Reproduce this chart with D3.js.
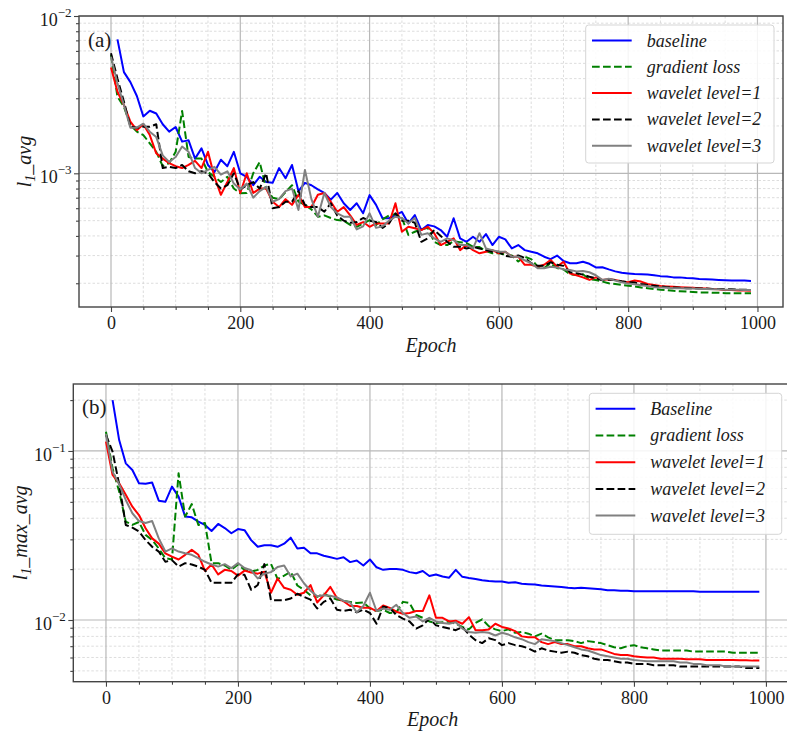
<!DOCTYPE html>
<html>
<head>
<meta charset="utf-8">
<script src="https://d3js.org/d3.v7.min.js"></script>
<style>
  body { margin: 0; background: #fff; }
  .minor { stroke: #d4d4d4; stroke-width: 0.8; stroke-dasharray: 2.5,2; }
  .major { stroke: #b8b8b8; stroke-width: 1.2; }
  .axis path { display: none; }
  .axis line { stroke: #444; stroke-width: 1.1; }
  .spine { fill: none; stroke: #444; stroke-width: 1.4; }
  .series { fill: none; stroke-width: 2; stroke-linejoin: round; }
</style>
</head>
<body>
<svg id="chart" width="787" height="734" font-family="'Liberation Serif', 'Times New Roman', Tinos, serif"></svg>
<script>
var SERIF = "'Liberation Serif', 'Times New Roman', Tinos, serif";

// epochs: every 10, the baseline run starts at 10
var epochs = d3.range(0, 1000, 10);
var epochsBase = d3.range(10, 1000, 10);

var seriesNames = ["baseline", "gradient loss", "wavelet level=1", "wavelet level=2", "wavelet level=3"];
var seriesNamesB = ["Baseline", "gradient loss", "wavelet level=1", "wavelet level=2", "wavelet level=3"];
var seriesColors = ["#0000ff", "#008000", "#ff0000", "#000000", "#808080"];
var seriesDashed = [false, true, false, true, false];

// (a) l_1_avg
var baselineA = [71e-4,44e-4,38e-4,31e-4,23e-4,25e-4,24e-4,20.5e-4,18.4e-4,19.7e-4,
  15.9e-4,16.2e-4,12.4e-4,14.4e-4,11.3e-4,10.2e-4,12.2e-4,11.1e-4,13.7e-4,10e-4,
  9.5e-4,8.4e-4,9.5e-4,8.8e-4,8.7e-4,10.8e-4,9.3e-4,11.3e-4,7.7e-4,8.7e-4,
  8.4e-4,7.9e-4,7.5e-4,6.8e-4,7.5e-4,6.45e-4,5.85e-4,6.45e-4,5.57e-4,7.27e-4,
  6.3e-4,5.18e-4,5.18e-4,5.43e-4,5.68e-4,4.8e-4,5.43e-4,4.36e-4,4.69e-4,4.6e-4,
  4.36e-4,3.95e-4,5.18e-4,3.86e-4,3.67e-4,3.95e-4,3.67e-4,4.11e-4,3.5e-4,3.95e-4,
  3.8e-4,3.33e-4,3.5e-4,3.25e-4,3.17e-4,3.1e-4,2.95e-4,2.85e-4,3.0e-4,2.77e-4,
  2.68e-4,2.68e-4,2.74e-4,2.66e-4,2.52e-4,2.53e-4,2.45e-4,2.38e-4,2.33e-4,2.31e-4,
  2.29e-4,2.28e-4,2.27e-4,2.25e-4,2.22e-4,2.21e-4,2.18e-4,2.18e-4,2.16e-4,2.15e-4,
  2.13e-4,2.12e-4,2.11e-4,2.10e-4,2.09e-4,2.08e-4,2.08e-4,2.08e-4,2.07e-4];
var gradA = [56.5e-4,30.7e-4,26.5e-4,20.3e-4,18.4e-4,17.5e-4,15.5e-4,13.7e-4,11.1e-4,11.6e-4,
  13.7e-4,24.9e-4,12.7e-4,12.4e-4,12.4e-4,10.2e-4,9.5e-4,8.8e-4,9.5e-4,8.0e-4,
  7.46e-4,7.5e-4,10.0e-4,11.8e-4,8.0e-4,7.0e-4,6.85e-4,7.6e-4,8.4e-4,6.6e-4,
  6.3e-4,5.9e-4,5.3e-4,5.4e-4,5.2e-4,5.04e-4,5.0e-4,4.7e-4,4.57e-4,4.8e-4,
  5.04e-4,4.7e-4,5.1e-4,5.4e-4,5.5e-4,5.2e-4,4.06e-4,4.25e-4,4.4e-4,4.5e-4,
  3.67e-4,3.5e-4,3.5e-4,3.7e-4,3.65e-4,3.6e-4,3.41e-4,3.4e-4,3.2e-4,3.1e-4,
  3.1e-4,3.05e-4,3.0e-4,2.75e-4,2.95e-4,2.85e-4,2.55e-4,2.5e-4,2.68e-4,2.5e-4,
  2.45e-4,2.28e-4,2.26e-4,2.28e-4,2.12e-4,2.1e-4,2.05e-4,2.0e-4,1.98e-4,1.95e-4,
  1.93e-4,1.91e-4,1.88e-4,1.86e-4,1.84e-4,1.82e-4,1.81e-4,1.79e-4,1.78e-4,1.77e-4,
  1.76e-4,1.75e-4,1.75e-4,1.74e-4,1.74e-4,1.73e-4,1.73e-4,1.73e-4,1.73e-4,1.73e-4];
var wave1A = [47e-4,33e-4,27.2e-4,21.3e-4,18.8e-4,20.5e-4,17.5e-4,13.4e-4,12.4e-4,11.6e-4,
  11.1e-4,10.8e-4,11.3e-4,12.0e-4,10.8e-4,13.7e-4,9.5e-4,7.3e-4,8.8e-4,10.8e-4,
  7.5e-4,10.0e-4,7.5e-4,8.0e-4,8.0e-4,6.6e-4,6.1e-4,6.85e-4,6.3e-4,7.3e-4,
  6.1e-4,6.1e-4,7.3e-4,7.5e-4,6.6e-4,5.7e-4,6.1e-4,5.4e-4,4.7e-4,4.9e-4,
  4.57e-4,4.8e-4,4.8e-4,4.8e-4,6.45e-4,4.25e-4,4.57e-4,4.47e-4,4.36e-4,4.57e-4,
  4.16e-4,3.5e-4,3.67e-4,3.86e-4,3.25e-4,3.5e-4,3.25e-4,3.1e-4,3.17e-4,3.25e-4,
  3.1e-4,3.17e-4,2.95e-4,2.95e-4,2.62e-4,2.62e-4,2.55e-4,2.62e-4,2.81e-4,2.55e-4,
  2.74e-4,2.31e-4,2.25e-4,2.18e-4,2.1e-4,2.18e-4,2.1e-4,2.12e-4,2.1e-4,2.05e-4,
  2.03e-4,2.08e-4,2.05e-4,1.98e-4,1.95e-4,1.92e-4,1.91e-4,1.90e-4,1.89e-4,1.88e-4,
  1.87e-4,1.86e-4,1.85e-4,1.84e-4,1.83e-4,1.81e-4,1.81e-4,1.80e-4,1.80e-4,1.79e-4];
var wave2A = [58e-4,40e-4,28.5e-4,19.8e-4,19.5e-4,19.8e-4,19.8e-4,20.5e-4,10.8e-4,11.0e-4,
  10.8e-4,11.3e-4,10.3e-4,10.0e-4,10.3e-4,10.0e-4,8.8e-4,8.0e-4,8.4e-4,10.0e-4,
  7.9e-4,8.4e-4,8.8e-4,8.0e-4,10.0e-4,6.0e-4,6.1e-4,6.6e-4,6.6e-4,7.7e-4,
  6.3e-4,6.1e-4,6.1e-4,5.7e-4,6.45e-4,5.4e-4,5.0e-4,4.85e-4,4.9e-4,5.2e-4,
  5.0e-4,4.9e-4,4.5e-4,4.8e-4,5.57e-4,5.0e-4,5.0e-4,4.85e-4,3.67e-4,3.86e-4,
  4.36e-4,4.0e-4,3.67e-4,3.41e-4,3.41e-4,3.33e-4,3.41e-4,3.33e-4,3.25e-4,3.17e-4,
  3.17e-4,2.98e-4,2.95e-4,3.0e-4,2.9e-4,2.68e-4,2.58e-4,2.58e-4,2.72e-4,2.62e-4,
  2.58e-4,2.35e-4,2.32e-4,2.27e-4,2.2e-4,2.15e-4,2.09e-4,2.11e-4,2.1e-4,2.06e-4,
  2.03e-4,2.02e-4,1.98e-4,1.95e-4,1.93e-4,1.91e-4,1.89e-4,1.88e-4,1.87e-4,1.86e-4,
  1.86e-4,1.85e-4,1.85e-4,1.84e-4,1.84e-4,1.83e-4,1.83e-4,1.82e-4,1.82e-4,1.81e-4];
var wave3A = [55e-4,37.3e-4,27.2e-4,19.5e-4,19.5e-4,20.7e-4,18.4e-4,17.0e-4,13.0e-4,11.8e-4,
  12.7e-4,14.8e-4,13.7e-4,10.8e-4,10.0e-4,10.5e-4,11.0e-4,9.8e-4,10.3e-4,8.6e-4,
  7.9e-4,8.6e-4,7.0e-4,7.7e-4,8.2e-4,6.6e-4,6.85e-4,7.7e-4,8.0e-4,5.85e-4,
  10.5e-4,6.85e-4,5.3e-4,7.5e-4,6.1e-4,5.57e-4,5.3e-4,5.3e-4,4.4e-4,4.6e-4,
  5.57e-4,4.5e-4,4.6e-4,5.0e-4,5.3e-4,5.2e-4,4.8e-4,5.2e-4,4.06e-4,4.16e-4,
  3.86e-4,3.67e-4,3.86e-4,3.76e-4,3.5e-4,3.5e-4,3.33e-4,4.16e-4,3.33e-4,3.25e-4,
  3.17e-4,3.17e-4,2.95e-4,2.95e-4,2.8e-4,2.68e-4,2.49e-4,2.49e-4,2.55e-4,2.52e-4,
  2.45e-4,2.43e-4,2.38e-4,2.39e-4,2.35e-4,2.25e-4,2.1e-4,2.14e-4,2.08e-4,2.03e-4,
  1.99e-4,1.97e-4,1.94e-4,1.92e-4,1.89e-4,1.88e-4,1.87e-4,1.86e-4,1.86e-4,1.85e-4,
  1.85e-4,1.84e-4,1.84e-4,1.83e-4,1.83e-4,1.82e-4,1.82e-4,1.82e-4,1.81e-4,1.81e-4];

// (b) l_1_max_avg
var baselineB = [0.2,0.116,0.0845,0.0772,0.0644,0.064,0.065,0.0508,0.05,0.0615,
  0.0537,0.0409,0.0405,0.0382,0.0365,0.0336,0.037,0.035,0.0326,0.0345,
  0.034,0.0297,0.0271,0.0277,0.0277,0.0271,0.0283,0.0307,0.0265,0.0268,
  0.0248,0.0248,0.024,0.0235,0.023,0.0235,0.022,0.0225,0.021,0.0228,
  0.0205,0.0198,0.020,0.020,0.0198,0.0192,0.0189,0.0195,0.0182,0.0186,
  0.0181,0.0178,0.0198,0.018,0.0177,0.0175,0.0172,0.017,0.0169,0.0169,
  0.0166,0.0167,0.0164,0.0163,0.0162,0.016,0.0159,0.0158,0.0157,0.0155,
  0.0154,0.0155,0.0154,0.0153,0.0152,0.015,0.015,0.0149,0.0149,0.0148,
  0.0148,0.0148,0.0148,0.0148,0.0148,0.0148,0.0148,0.0148,0.0148,0.0147,
  0.0147,0.0147,0.0147,0.0147,0.0147,0.0147,0.0147,0.0147,0.0147];
var gradB = [0.13,0.079,0.0575,0.0382,0.0365,0.038,0.0319,0.0297,0.0265,0.0232,
  0.0228,0.0738,0.0409,0.0485,0.0365,0.0375,0.0217,0.0217,0.021,0.0198,
  0.0213,0.0198,0.0193,0.0198,0.021,0.0215,0.0175,0.0183,0.0193,0.016,
  0.0151,0.014,0.0137,0.0143,0.0137,0.0132,0.013,0.0128,0.0126,0.0127,
  0.0117,0.0113,0.0115,0.011,0.0111,0.0128,0.0126,0.0107,0.0103,0.0098,
  0.0096,0.0097,0.0098,0.0095,0.0091,0.0088,0.0096,0.0101,0.0092,0.0088,
  0.0086,0.0088,0.0084,0.0085,0.0083,0.0080,0.0083,0.0079,0.0076,0.0076,
  0.0076,0.0075,0.0073,0.0075,0.0074,0.0073,0.0071,0.0069,0.0068,0.0070,
  0.0071,0.0069,0.0068,0.0067,0.0066,0.0066,0.0066,0.0066,0.0066,0.0065,
  0.0065,0.0065,0.0065,0.0065,0.0065,0.0064,0.0064,0.0064,0.0064,0.0064];
var wave1B = [0.1135,0.0721,0.0644,0.055,0.0468,0.0418,0.0349,0.0304,0.0283,0.0248,
  0.0237,0.0228,0.0243,0.026,0.0243,0.0195,0.0213,0.0186,0.0198,0.0195,
  0.0183,0.0196,0.0191,0.0188,0.0193,0.0145,0.0176,0.0155,0.0151,0.0141,
  0.0145,0.0161,0.0127,0.014,0.0157,0.0135,0.0129,0.0121,0.0121,0.0118,
  0.0118,0.0113,0.0122,0.0118,0.0112,0.0109,0.011,0.0113,0.0113,0.014,
  0.0103,0.0103,0.0098,0.0099,0.0095,0.0104,0.0087,0.0087,0.0088,0.0095,
  0.0091,0.0089,0.0086,0.0080,0.0079,0.0079,0.0074,0.0072,0.0074,0.0072,
  0.0072,0.0070,0.0070,0.0068,0.0067,0.0067,0.0065,0.0063,0.0062,0.0062,
  0.0061,0.00605,0.0060,0.0060,0.0059,0.0059,0.0059,0.0059,0.00585,0.00585,
  0.00585,0.0058,0.0058,0.0058,0.0058,0.0058,0.00578,0.00578,0.00575,0.00575];
var wave2B = [0.1245,0.099,0.0635,0.0365,0.0352,0.0334,0.0297,0.0271,0.0254,0.0221,
  0.0226,0.0207,0.0217,0.0213,0.0207,0.0198,0.0166,0.0166,0.0166,0.0166,
  0.0186,0.0185,0.0151,0.0161,0.0214,0.0131,0.0131,0.0131,0.0134,0.0143,
  0.0137,0.0132,0.0117,0.0128,0.0134,0.0115,0.0113,0.0115,0.0111,0.0115,
  0.011,0.0095,0.012,0.0118,0.0107,0.0102,0.0098,0.0089,0.0093,0.0102,
  0.0093,0.0091,0.0089,0.0087,0.0091,0.0082,0.0076,0.0073,0.0078,0.0076,
  0.0071,0.0073,0.0071,0.0070,0.0068,0.0065,0.0068,0.0066,0.0065,0.0064,
  0.0065,0.0064,0.0062,0.0061,0.0059,0.0058,0.0058,0.0057,0.0056,0.0056,
  0.0055,0.0055,0.0055,0.0054,0.0054,0.0054,0.0054,0.0053,0.0053,0.0053,
  0.0053,0.0053,0.0053,0.0053,0.0053,0.0053,0.0053,0.0052,0.0052,0.0052];
var wave3B = [0.126,0.0755,0.0635,0.0513,0.0428,0.0385,0.0375,0.0385,0.0304,0.0254,
  0.0265,0.0254,0.0248,0.0243,0.0232,0.0221,0.0213,0.0207,0.0214,0.0203,
  0.0217,0.0203,0.0197,0.0176,0.0188,0.0192,0.0206,0.021,0.0181,0.0188,
  0.0165,0.0149,0.0138,0.014,0.0139,0.0136,0.013,0.0127,0.0111,0.0121,
  0.0145,0.0113,0.0117,0.0115,0.0123,0.011,0.0103,0.0105,0.0098,0.0103,
  0.0098,0.0096,0.0095,0.0097,0.0089,0.0085,0.0084,0.0085,0.0084,0.0081,
  0.0084,0.0082,0.0079,0.0077,0.0074,0.0072,0.0077,0.0076,0.0075,0.0073,
  0.0071,0.0069,0.0067,0.0066,0.0064,0.0062,0.0061,0.0060,0.0059,0.0059,
  0.0058,0.00575,0.0057,0.0057,0.0057,0.0057,0.0057,0.0056,0.0056,0.0055,
  0.0055,0.0054,0.0054,0.0054,0.0053,0.0053,0.0053,0.0053,0.0053,0.0053];

var xTicks = [0, 200, 400, 600, 800, 1000];

var svg = d3.select("#chart");

function txt(sel, size, italic) {
  return sel.attr("font-family", SERIF).style("font-family", SERIF)
    .style("font-size", size + "px").style("font-style", italic ? "italic" : "normal")
    .style("fill", "#1a1a1a");
}

function drawPanel(p) {
  var x = d3.scaleLinear().domain([-49.5, 1039.5]).range([p.left, p.right]);
  var y = d3.scaleLog().domain(p.yDomain).range([p.bottom, p.top]);
  var g = svg.append("g");

  g.append("clipPath").attr("id", "clip" + p.tag).append("rect")
    .attr("x", p.left).attr("y", p.top)
    .attr("width", p.right - p.left).attr("height", p.bottom - p.top);

  var lo = Math.floor(Math.log10(p.yDomain[0])), hi = Math.ceil(Math.log10(p.yDomain[1]));
  var yMajor = [], yMinor = [];
  for (var e = lo; e <= hi; e++) {
    var b = Math.pow(10, e);
    if (b >= p.yDomain[0] * 0.999 && b <= p.yDomain[1] * 1.001) yMajor.push(b);
    for (var k = 2; k < 10; k++) {
      var v = k * b;
      if (v > p.yDomain[0] && v < p.yDomain[1]) yMinor.push(v);
    }
  }
  var xMinor = d3.range(50, 1040, 50).filter(function(d) { return d % 200 !== 0; });

  // grid
  var grid = g.append("g");
  grid.selectAll(".gxm").data(xMinor).enter().append("line").attr("class", "minor")
    .attr("x1", x).attr("x2", x).attr("y1", p.top).attr("y2", p.bottom);
  grid.selectAll(".gym").data(yMinor).enter().append("line").attr("class", "minor")
    .attr("y1", y).attr("y2", y).attr("x1", p.left).attr("x2", p.right);
  grid.selectAll(".gxM").data(xTicks).enter().append("line").attr("class", "major")
    .attr("x1", x).attr("x2", x).attr("y1", p.top).attr("y2", p.bottom);
  grid.selectAll(".gyM").data(yMajor).enter().append("line").attr("class", "major")
    .attr("y1", y).attr("y2", y).attr("x1", p.left).attr("x2", p.right);

  // lines
  var line = d3.line().x(function(d) { return x(d[0]); }).y(function(d) { return y(d[1]); });
  var lines = g.append("g").attr("clip-path", "url(#clip" + p.tag + ")");
  p.series.forEach(function(s, i) {
    var xs = i === 0 ? epochsBase : epochs;
    lines.append("path").attr("class", "series")
      .attr("d", line(d3.zip(xs, s)))
      .attr("stroke", seriesColors[i])
      .attr("stroke-dasharray", seriesDashed[i] ? "7.7,3.3" : null);
  });

  // spines
  g.append("rect").attr("class", "spine")
    .attr("x", p.left).attr("y", p.top)
    .attr("width", p.right - p.left).attr("height", p.bottom - p.top);

  // x axis
  var xa = g.append("g").attr("class", "axis")
    .attr("transform", "translate(0," + p.bottom + ")")
    .call(d3.axisBottom(x).tickValues(xTicks).tickSize(5).tickFormat(d3.format("d")));
  txt(xa.selectAll("text").attr("y", 22).attr("dy", null), 18, false);
  g.append("g").attr("class", "axis")
    .attr("transform", "translate(0," + p.bottom + ")")
    .call(d3.axisBottom(x).tickValues(xMinor).tickSize(3).tickFormat(""));

  // y axis
  var ya = g.append("g").attr("class", "axis")
    .attr("transform", "translate(" + p.left + ",0)")
    .call(d3.axisLeft(y).tickValues(yMajor).tickSize(5).tickFormat(""));
  g.append("g").attr("class", "axis")
    .attr("transform", "translate(" + p.left + ",0)")
    .call(d3.axisLeft(y).tickValues(yMinor).tickSize(3).tickFormat(""));
  var lab = txt(ya.selectAll(".tick").append("text")
    .attr("x", -7.5).attr("y", 9.5).attr("text-anchor", "end"), 18, false);
  lab.append("tspan").text("10");
  lab.append("tspan").attr("dy", -9).style("font-size", "13px")
    .text(function(d) { return "\u2212" + Math.round(-Math.log10(d)); });

  // axis labels
  txt(g.append("text").attr("x", x(495)).attr("y", p.bottom + 44.5)
    .attr("text-anchor", "middle"), 20, true).text("Epoch");

  var yl = txt(g.append("text")
    .attr("transform", "translate(" + p.yLabelX + "," + ((p.top + p.bottom) / 2) + ") rotate(-90)")
    .attr("text-anchor", "middle"), 20, true);
  yl.append("tspan").text("l");
  yl.append("tspan").attr("dy", 4).style("font-size", "14px").text("1");
  yl.append("tspan").attr("dy", -4).text(p.yLabelRest);

  txt(g.append("text").attr("x", p.left + p.tagDx).attr("y", p.top + p.tagDy), 21, false)
    .text(p.tagText);

  // legend
  var lg = g.append("g").attr("transform", "translate(" + p.legX + "," + p.legY + ")");
  lg.append("rect").attr("width", p.legW).attr("height", p.legH).attr("rx", 3)
    .attr("fill", "#fff").attr("fill-opacity", 0.85).attr("stroke", "#d5d5d5").attr("stroke-width", 1);
  p.names.forEach(function(n, i) {
    var cy = 15.5 + i * p.legGap;
    lg.append("line").attr("x1", 6.3).attr("x2", 46).attr("y1", cy).attr("y2", cy)
      .attr("stroke", seriesColors[i]).attr("stroke-width", 2)
      .attr("stroke-dasharray", seriesDashed[i] ? "7.7,3.3" : null);
    txt(lg.append("text").attr("x", 61).attr("y", cy + 6), 18, true).text(n);
  });
}

drawPanel({
  tag: "a", tagText: "(a)", tagDx: 9, tagDy: 31,
  left: 79, right: 783, top: 16, bottom: 307,
  yDomain: [1.413e-4, 1e-2],
  series: [baselineA, gradA, wave1A, wave2A, wave3A],
  names: seriesNames,
  yLabelX: 31, yLabelRest: "_avg",
  legX: 585.7, legY: 25, legW: 188.3, legH: 138, legGap: 26.3
});

drawPanel({
  tag: "b", tagText: "(b)", tagDx: 8.7, tagDy: 30,
  left: 73.3, right: 792, top: 384, bottom: 681.7,
  yDomain: [4.315e-3, 0.249],
  series: [baselineB, gradB, wave1B, wave2B, wave3B],
  names: seriesNamesB,
  yLabelX: 27, yLabelRest: "_max_avg",
  legX: 589.3, legY: 393.3, legW: 192.4, legH: 141, legGap: 26.7
});
</script>
</body>
</html>
